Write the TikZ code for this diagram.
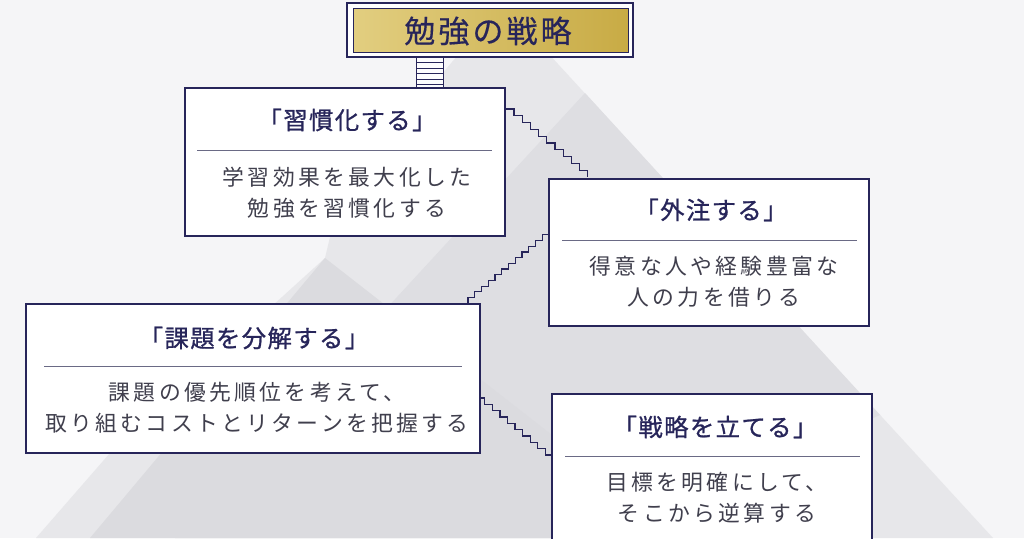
\documentclass[tikz,border=0pt]{standalone}
\usepackage{fontspec}
\usetikzlibrary{calc}
\newfontfamily\jpbody[LetterSpace=15.5]{Noto Sans CJK JP}
\newfontfamily\jphead[LetterSpace=6, FakeBold=0.9]{Noto Sans CJK JP}
\newfontfamily\jpmain[LetterSpace=10, FakeBold=0.4]{Noto Sans CJK JP}
\definecolor{navy}{HTML}{27255A}
\definecolor{bodytxt}{HTML}{403F4D}
\definecolor{rulec}{HTML}{6A6A85}
\definecolor{bgc}{HTML}{F5F5F7}
\definecolor{triA}{HTML}{E7E7EA}
\definecolor{triB}{HTML}{DEDEE2}
\definecolor{triC}{HTML}{DBDBDF}
\definecolor{goldL}{HTML}{E2CE80}
\definecolor{goldR}{HTML}{C8AB45}
\tikzset{
  box/.style={draw=navy, line width=1.6pt, fill=white, inner sep=0pt, minimum width=320pt},
  headtxt/.style={font=\jphead\fontsize{24.3}{27}\selectfont, text=navy, inner sep=0pt},
  bodytext/.style={font=\jpbody\fontsize{21.8}{31}\selectfont, text=bodytxt, align=center, inner sep=0pt},
  divider/.style={draw=rulec, line width=0.9pt},
  stair/.style={draw=navy, line width=1.2pt, line join=miter},
}
\begin{document}
\begin{tikzpicture}[x=1pt,y=-1pt]
\useasboundingbox (0,0) rectangle (1024,538);
\fill[bgc] (0,0) rectangle (1024,538);
% background mountains
\fill[triA] (502,3) -- (993,538) -- (36,538) -- (110,453) -- (325,258) -- (330,237) -- (430,88) -- cycle;
\fill[triB] (585,93) -- (880,415) -- (600,538) -- (175,538) -- cycle;
\fill[triC] (325,258) -- (684,538) -- (90,538) -- cycle;

% title
\node[draw=navy, line width=1.6pt, fill=white, minimum width=286pt, minimum height=54pt, inner sep=0pt] (tb) at (490,30) {};
\node[draw=navy, line width=0.8pt, left color=goldL, right color=goldR, minimum width=275pt, minimum height=44pt, inner sep=0pt] (tg) at (490.5,30) {};
\node[font=\jpmain\fontsize{31}{34}\selectfont, text=navy, inner sep=0pt] (tt) at (488,31) {勉強の戦略};

% boxes
\node[box, minimum height=148pt] (b1) at (345,162) {};
\node[box, minimum height=147pt] (b2) at (709,252.5) {};
\node[box, minimum width=454pt, minimum height=149pt] (b3) at (253,378.5) {};
\node[box, minimum height=166pt] (b4) at (712,477) {};

% ladder
\coordinate (la) at (416,57);
\coordinate (lb) at (443,88);
\draw[navy, line width=1pt, fill=white!70!bgc] (tb.south -| la) rectangle (b1.north -| lb);
\foreach \yy in {62.5,68,73.5,79,84.5} \draw[navy, line width=0.9pt] (416,\yy) -- (443,\yy);

% box texts
\node[headtxt] (h1) at (347,120) {「習慣化する」};
\draw[divider] (197,150) -- (492,150);
\node[bodytext] (d1) at (347,193) {学習効果を最大化した\\勉強を習慣化する};

\node[headtxt] (h2) at (711,210) {「外注する」};
\draw[divider] (562,240) -- (857,240);
\node[bodytext] (d2) at (714,281.5) {得意な人や経験豊富な\\人の力を借りる};

\node[headtxt] (h3) at (254,338) {「課題を分解する」};
\draw[divider] (44,366) -- (462,366);
\node[bodytext] (d3) at (257,408) {課題の優先順位を考えて、\\取り組むコストとリターンを把握する};

\node[headtxt] (h4) at (715,427) {「戦略を立てる」};
\draw[divider] (565,456) -- (860,456);
\node[bodytext] (d4) at (717,497.5) {目標を明確にして、\\そこから逆算する};

% stair connectors
\coordinate (s1a) at (b1.east |- 0,109);
\coordinate (s1b) at (b2.north -| 587,0);
\draw[stair] (s1a) foreach \i in {1,...,10} { -- ++(8.2,0) -- ++(0,6.8) };

\coordinate (s2a) at (b3.north -| 468,0);
\coordinate (s2b) at (b2.west |- 0,236);
\draw[stair] (s2a) foreach \i in {1,...,12} { -- ++(0,-5.7) -- ++(6.75,0) };

\coordinate (s3a) at (b3.east |- 0,398);
\coordinate (s3b) at (b4.west |- 0,455);
\draw[stair] (s3a) -- ++(4,0) foreach \i in {1,...,9} { -- ++(0,6.33) -- ++(7.56,0) };
\end{tikzpicture}
\end{document}
